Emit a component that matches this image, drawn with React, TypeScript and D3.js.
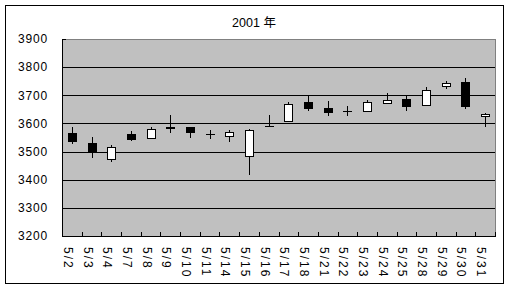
import React from "react";
import * as d3 from "d3";

const dates = ["5/2","5/3","5/4","5/7","5/8","5/9","5/10","5/11","5/14","5/15","5/16","5/17","5/18","5/21","5/22","5/23","5/24","5/25","5/28","5/29","5/30","5/31"];
const opens = [3567,3531,3474,3562,3547,3588,3587,3564,3554,3483,3590,3610,3676,3655,3645,3643,3674,3687,3664,3734,3747,3625];
const highs = [3587,3552,3523,3573,3587,3630,3587,3577,3577,3580,3630,3675,3697,3680,3662,3683,3707,3697,3728,3751,3761,3636];
const lows = [3532,3482,3468,3542,3547,3571,3553,3547,3539,3421,3590,3610,3649,3631,3630,3643,3674,3649,3664,3727,3655,3592];
const closes = [3539,3500,3517,3546,3579,3584,3571,3561,3568,3577,3591,3669,3656,3641,3645,3675,3683,3661,3719,3743,3663,3633];
const yTicks = [3200,3300,3400,3500,3600,3700,3800,3900];
const title = "2001 年";

const W = 510, H = 289;
const L = 62, R = 495, T = 39, B = 236;
const FONT = "'Liberation Sans', Arial, 'Noto Sans CJK JP', sans-serif";

export default function App() {
  const x = d3.scaleBand<string>().domain(dates).range([L, R]).padding(0);
  const y = d3.scaleLinear().domain([3200, 3900]).range([B, T]);
  const bw = 8;
  const px = (v: number) => Math.round(v) + 0.5;

  return (
    <svg width={W} height={H} style={{ position: "absolute", left: 0, top: 0, background: "#fff" }} shapeRendering="crispEdges">
      <rect x={5.5} y={5.5} width={498} height={278} fill="#fff" stroke="#000" strokeWidth={1} />
      <text x={254} y={27} textAnchor="middle" fontFamily={FONT} fontSize={12.5} fill="#000">{title}</text>
      <rect x={L} y={T} width={R - L} height={B - T} fill="#c0c0c0" />
      {yTicks.filter(v => v > 3200 && v < 3900).map(v => (
        <line key={"g" + v} x1={L} x2={R} y1={px(y(v))} y2={px(y(v))} stroke="#000" />
      ))}
      <line x1={L} x2={R} y1={px(T)} y2={px(T)} stroke="#808080" />
      <line x1={px(R)} x2={px(R)} y1={T} y2={B} stroke="#808080" />
      <line x1={px(L)} x2={px(L)} y1={T} y2={B + 1} stroke="#000" />
      <line x1={L} x2={R + 1} y1={px(B)} y2={px(B)} stroke="#000" />
      {yTicks.map(v => (
        <g key={"y" + v}>
          <line x1={L} x2={L + 4} y1={px(y(v))} y2={px(y(v))} stroke="#000" />
          <text x={48} y={y(v)} dy="0.36em" textAnchor="end" fontFamily={FONT} fontSize={12} letterSpacing={0.8} fill="#000">{v}</text>
        </g>
      ))}
      {dates.map((d, i) => (
        <line key={"t" + d} x1={px(x(d)! + x.bandwidth())} x2={px(x(d)! + x.bandwidth())} y1={B - 4} y2={B} stroke="#000" />
      ))}
      {dates.map((d, i) => {
        const cx = x(d)! + x.bandwidth() / 2 - 4;
        return (
          <text key={"l" + d} transform={`translate(${cx},247) rotate(90)`} dominantBaseline="central" fontFamily={FONT} fontSize={12} letterSpacing={2} fill="#000">{d}</text>
        );
      })}
      {dates.map((d, i) => {
        const cx = px(x(d)! + x.bandwidth() / 2);
        const o = opens[i], c = closes[i];
        const top = Math.round(y(Math.max(o, c)));
        const bot = Math.round(y(Math.min(o, c)));
        const fill = c < o ? "#000" : "#fff";
        return (
          <g key={"c" + d}>
            <line x1={cx} x2={cx} y1={Math.round(y(highs[i]))} y2={Math.round(y(lows[i])) + 1} stroke="#000" />
            {bot - top < 1 ? (
              <line x1={cx - bw / 2 - 0.5} x2={cx + bw / 2 + 0.5} y1={top + 0.5} y2={top + 0.5} stroke="#000" />
            ) : (
              <rect x={cx - bw / 2} y={top + 0.5} width={bw} height={bot - top} fill={fill} stroke="#000" />
            )}
          </g>
        );
      })}
    </svg>
  );
}
